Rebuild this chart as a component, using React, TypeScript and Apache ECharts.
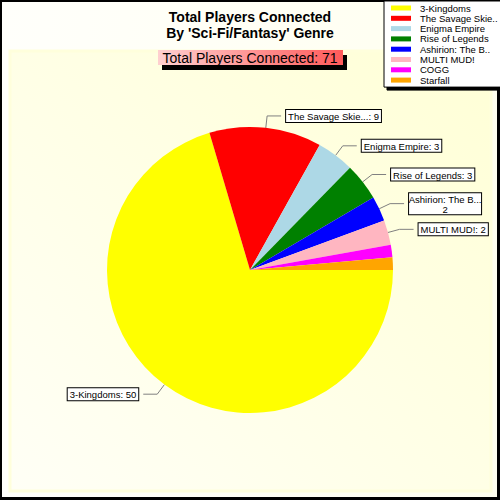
import { useEffect, useRef } from 'react'
import * as echarts from 'echarts'

// Players connected per game, 'Sci-Fi/Fantasy' genre
const games = [
  '3-Kingdoms',
  'The Savage Skie...',
  'Enigma Empire',
  'Rise of Legends',
  'Ashirion: The B...',
  'MULTI MUD!',
  'COGG',
  'Starfall'
]
const players = [50, 9, 3, 3, 2, 2, 1, 1]
const sliceColors = ['#ffff00', '#ff0000', '#add8e6', '#008000', '#0000ff', '#ffb6c1', '#ff00ff', '#ffa500']
const showLabel = [true, true, true, true, true, true, false, false]
const titleLines = ['Total Players Connected', "By 'Sci-Fi/Fantasy' Genre"]
const totalLabel = 'Total Players Connected'

const FONT = 'Arial, "Liberation Sans", sans-serif'

export default function App() {
  const chartRef = useRef<HTMLDivElement>(null)

  useEffect(() => {
    document.body.style.margin = '0'
    const host = chartRef.current
    if (!host) return

    const chart = echarts.init(host, null, { renderer: 'svg' })
    const total = players.reduce((a, b) => a + b, 0)

    const option: echarts.EChartsOption = {
      animation: false,
      title: {
        text: titleLines.join('\n'),
        left: 'center',
        top: 9,
        padding: 0,
        textStyle: {
          fontFamily: FONT,
          fontSize: 14,
          fontWeight: 'bold',
          lineHeight: 16,
          color: '#000'
        }
      },
      legend: {
        orient: 'vertical',
        left: 384,
        top: 1,
        padding: [2, 3, 2, 7],
        itemWidth: 20,
        itemHeight: 5,
        itemGap: 0.3,
        icon: 'rect',
        selectedMode: false,
        backgroundColor: '#fff',
        borderColor: '#000',
        borderWidth: 1,
        shadowColor: '#000',
        shadowOffsetX: 3,
        shadowOffsetY: 3,
        shadowBlur: 0,
        formatter: (name: string) => name.replace('...', '..'),
        textStyle: {
          fontFamily: FONT,
          fontSize: 9.5,
          lineHeight: 10,
          color: '#000',
          padding: [0, 0, 0, 4]
        },
        data: games
      },
      graphic: [
        {
          type: 'rect',
          z: -30,
          silent: true,
          shape: { x: 0, y: 0, width: 500, height: 500 },
          style: { fill: '#000' }
        },
        {
          type: 'rect',
          z: -29,
          silent: true,
          shape: { x: 2, y: 2, width: 495, height: 495 },
          style: {
            fill: new echarts.graphic.LinearGradient(0, 0, 1, 0, [
              { offset: 0, color: '#fffffb' },
              { offset: 1, color: '#ffffef' }
            ])
          }
        },
        {
          type: 'rect',
          z: -28,
          silent: true,
          shape: { x: 10, y: 51, width: 481, height: 440 },
          style: {
            fill: new echarts.graphic.LinearGradient(1, 0, 0, 1, [
              { offset: 0, color: '#ffffd6' },
              { offset: 0.6, color: '#ffffe9' },
              { offset: 1, color: '#fffff6' }
            ]),
            stroke: '#ffffdc',
            lineWidth: 3
          }
        },
        {
          type: 'rect',
          z: 10,
          silent: true,
          shape: { x: 162, y: 55, width: 185, height: 15 },
          style: { fill: '#000' }
        },
        {
          type: 'rect',
          z: 11,
          silent: true,
          shape: { x: 158, y: 50, width: 185, height: 15 },
          style: {
            fill: new echarts.graphic.LinearGradient(0, 0, 1, 0, [
              { offset: 0, color: '#ffd0d0' },
              { offset: 1, color: '#ff5a5a' }
            ])
          }
        },
        {
          type: 'text',
          z: 12,
          silent: true,
          x: 250,
          y: 57.5,
          style: {
            text: `${totalLabel}: ${total}`,
            fontFamily: FONT,
            fontSize: 14,
            fill: '#000',
            align: 'center',
            verticalAlign: 'middle'
          }
        }
      ],
      series: [
        {
          type: 'pie',
          center: [250, 270],
          radius: 143,
          startAngle: 0,
          clockwise: true,
          avoidLabelOverlap: true,
          emphasis: { disabled: true },
          itemStyle: { borderWidth: 0 },
          label: {
            show: true,
            position: 'outside',
            fontFamily: FONT,
            fontSize: 9.5,
            lineHeight: 11,
            color: '#000',
            backgroundColor: '#fff',
            borderColor: '#000',
            borderWidth: 1,
            padding: [1, 2, 0, 2],
            formatter: (p: any) =>
              p.name.includes(':')
                ? `{c|${p.name}}\n{c|${p.value}}`
                : `${p.name}: ${p.value}`,
            rich: {
              c: {
                fontFamily: FONT,
                fontSize: 9.5,
                lineHeight: 10,
                color: '#000',
                width: 68,
                align: 'center'
              }
            }
          },
          labelLine: {
            show: true,
            length: 12,
            length2: 14,
            lineStyle: { color: '#808080', width: 1 }
          },
          data: games.map((name, i) => ({
            name,
            value: players[i],
            itemStyle: { color: sliceColors[i] },
            label: { show: showLabel[i] },
            labelLine: { show: showLabel[i] }
          }))
        }
      ]
    }

    chart.setOption(option)
    return () => {
      chart.dispose()
    }
  }, [])

  return <div ref={chartRef} style={{ width: 500, height: 500 }} />
}
